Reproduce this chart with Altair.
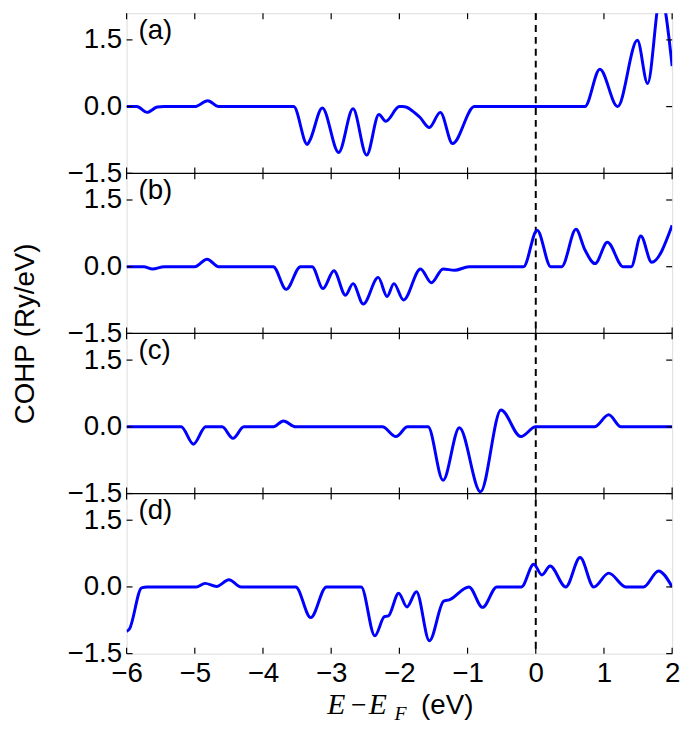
import altair as alt
import pandas as pd

# ---------------- data ----------------
x_ticks = [-6, -5, -4, -3, -2, -1, 0, 1, 2]
y_ticks = [-1.5, 0.0, 1.5]
panel_labels = ["(a)", "(b)", "(c)", "(d)"]

a_x = [-6.0, -5.85, -5.70, -5.55, -5.45, -5.0, -4.81, -4.65, -3.55, -3.35, -3.31, -3.13,
       -2.89, -2.68, -2.48, -2.30, -2.20, -2.0, -1.95, -1.70, -1.56, -1.40, -1.22, -0.90,
       0.72, 0.94, 1.20, 1.49, 1.64, 1.83, 2.0]
a_y = [0.0, 0.0, -0.13, -0.01, 0.0, 0.0, 0.13, 0.0, 0.0, -0.85, -0.75, -0.03,
       -1.03, -0.05, -1.09, -0.18, -0.33, 0.0, 0.0, -0.24, -0.47, -0.13, -0.83, 0.0,
       0.0, 0.84, 0.0, 1.49, 0.52, 2.5, 0.91]

b_x = [-6.0, -5.75, -5.62, -5.45, -5.0, -4.82, -4.65, -3.85, -3.66, -3.45, -3.28, -3.12,
       -2.96, -2.79, -2.68, -2.53, -2.31, -2.18, -2.08, -1.94, -1.69, -1.53, -1.36, -1.19,
       -0.98, -0.18, 0.02, 0.22, 0.38, 0.59, 0.72, 0.87, 1.05, 1.28, 1.40, 1.54, 1.70, 2.0]
b_y = [0.0, 0.0, -0.05, 0.0, 0.0, 0.17, 0.0, 0.0, -0.51, 0.0, 0.0, -0.49,
       -0.09, -0.64, -0.38, -0.84, -0.24, -0.67, -0.38, -0.75, -0.05, -0.36, -0.05, -0.08,
       0.0, 0.0, 0.82, 0.0, 0.0, 0.84, 0.38, 0.07, 0.55, 0.0, 0.0, 0.69, 0.10, 0.93]

c_x = [-6.0, -5.20, -5.02, -4.84, -4.60, -4.44, -4.28, -3.85, -3.70, -3.52, -2.25, -2.05,
       -1.88, -1.58, -1.36, -1.12, -0.81, -0.51, -0.22, 0.0, 0.86, 1.07, 1.25, 2.0]
c_y = [0.0, 0.0, -0.39, 0.0, 0.0, -0.26, 0.0, 0.0, 0.13, 0.0, 0.0, -0.22,
       0.0, 0.0, -1.20, -0.02, -1.46, 0.38, -0.22, 0.0, 0.0, 0.27, 0.0, 0.0]

d_x = [-6.0, -5.96, -5.78, -5.70, -4.98, -4.85, -4.68, -4.50, -4.32, -3.52, -3.30, -3.07,
       -2.56, -2.36, -2.22, -2.16, -2.01, -1.89, -1.75, -1.56, -1.35, -1.27, -0.98, -0.78,
       -0.57, -0.21, -0.03, 0.09, 0.21, 0.44, 0.65, 0.85, 1.07, 1.32, 1.58, 1.80, 2.0]
d_y = [-1.0, -0.95, -0.02, 0.0, 0.0, 0.08, 0.01, 0.16, 0.0, 0.0, -0.69, 0.0,
       0.0, -1.10, -0.67, -0.65, -0.14, -0.45, -0.11, -1.21, -0.32, -0.29, 0.0, -0.46,
       0.0, 0.0, 0.51, 0.27, 0.47, 0.0, 0.66, 0.0, 0.31, 0.0, 0.0, 0.36, 0.0]

series = [(a_x, a_y), (b_x, b_y), (c_x, c_y), (d_x, d_y)]

# ---------------- layout / style ----------------
Y_LO, Y_HI = -1.5, 2.1          # each panel's own y range
SPAN = Y_HI - Y_LO              # 3.6
NP = len(series)
W, H = 552, 648                 # whole stack of four panels
TICK = 6
FONT = "Liberation Sans"
SERIF = "Liberation Serif"
BLUE = "#0000ff"
FS = 28

xscale = alt.Scale(domain=[-6, 2], nice=False, zero=False)
yscale = alt.Scale(domain=[0, SPAN * NP], nice=False, zero=False)

# long-form data, panel index k (0 = top)
rows = []
for k, (xs, ys) in enumerate(series):
    for xv, yv in zip(xs, ys):
        rows.append({"E": xv, "COHP": yv, "k": k})
df = pd.DataFrame(rows)

# stacked positions of the y ticks / panel boundaries
ytick_pos = [t - Y_LO + SPAN * (NP - 1 - k) for k in range(NP) for t in y_ticks]
inner_bounds = [SPAN * j for j in range(1, NP)]

label_expr = ("format((datum.value - %g*floor((datum.value + 0.001)/%g)) + %g, '.1f')"
              % (SPAN, SPAN, Y_LO))

xaxis = alt.Axis(values=x_ticks, format="d", title=None, ticks=False, domain=False,
                 grid=False, labelFontSize=FS, labelFont=FONT, labelColor="black",
                 labelPadding=6, labelFlush=False, labelOverlap=False)
yaxis = alt.Axis(values=ytick_pos, labelExpr=label_expr, title="COHP (Ry/eV)",
                 titleFont=FONT, titleFontSize=FS, titleFontWeight="normal",
                 titleColor="black", titlePadding=28, ticks=False, domain=False,
                 grid=False, labelFontSize=FS, labelFont=FONT, labelColor="black",
                 labelPadding=5, labelOverlap=False)


def X(field):
    return alt.X(field, scale=xscale, axis=xaxis)


def Y(field):
    return alt.Y(field, scale=yscale, axis=yaxis)


line = alt.Chart(df).transform_calculate(
    yp="datum.COHP + %g + %g*(%d - datum.k)" % (-Y_LO, SPAN, NP - 1)
).mark_line(color=BLUE, strokeWidth=3, interpolate="monotone", clip=True).encode(
    x=X("E:Q"), y=Y("yp:Q"), detail="k:N")

zero = alt.Chart(pd.DataFrame({"z": [0]})).mark_rule(
    color="black", strokeDash=[7, 5], strokeWidth=2).encode(x=X("z:Q"))

seps = alt.Chart(pd.DataFrame({"b": inner_bounds})).mark_rule(
    color="black", strokeWidth=1.3).encode(y=Y("b:Q"))

# inward ticks
xt = pd.DataFrame({"t": x_ticks})
yt = pd.DataFrame({"t": ytick_pos})
cross = pd.DataFrame([{"t": t, "b": b} for t in x_ticks for b in inner_bounds])

top_t = alt.Chart(xt).mark_rule(color="black", strokeWidth=1.2).encode(
    x=X("t:Q"), y=alt.value(0), y2=alt.value(TICK))
bot_t = alt.Chart(xt).mark_rule(color="black", strokeWidth=1.2).encode(
    x=X("t:Q"), y=alt.value(H - TICK), y2=alt.value(H))
mid_t = alt.Chart(cross).mark_tick(color="black", orient="vertical", size=2 * TICK,
                                   thickness=1.2, opacity=1).encode(
    x=X("t:Q"), y=Y("b:Q"))
left_t = alt.Chart(yt).mark_rule(color="black", strokeWidth=1.2).encode(
    y=Y("t:Q"), x=alt.value(0), x2=alt.value(TICK))
right_t = alt.Chart(yt).mark_rule(color="black", strokeWidth=1.2).encode(
    y=Y("t:Q"), x=alt.value(W - TICK), x2=alt.value(W))

# panel letters, just inside each panel's top-left corner
labs = alt.Chart(pd.DataFrame({"lab": panel_labels, "k": list(range(NP))})).transform_calculate(
    yp="%g*(%d - datum.k) - 0.58" % (SPAN, NP), xl="-5.826"
).mark_text(font=FONT, fontSize=FS, align="left", baseline="alphabetic",
            color="black").encode(text="lab:N", x=X("xl:Q"), y=Y("yp:Q"))

layers = [zero, seps, line, top_t, bot_t, mid_t, left_t, right_t, labs]

# x axis title  E - E_F (eV)  built from pieces
pieces = [
    ("E", SERIF, "italic", 30, 203, 709),
    ("\u2212", SERIF, "normal", FS, 227, 709),
    ("E", SERIF, "italic", 30, 245, 709),
    ("F", SERIF, "italic", 20, 271, 715),
    ("(eV)", FONT, "normal", FS, 298, 709),
]
for txt, fnt, sty, size, px, py in pieces:
    layers.append(
        alt.Chart(pd.DataFrame({"t": [txt]})).mark_text(
            font=fnt, fontStyle=sty, fontSize=size, align="left",
            baseline="alphabetic", color="black").encode(
            text="t:N", x=alt.value(px), y=alt.value(py)))

chart = alt.layer(*layers).properties(
    width=W, height=H,
    padding={"left": 3, "top": 0, "right": 5, "bottom": 2}
).configure_view(
    stroke="black", strokeWidth=1.3
).configure(background="white")

chart.save("out.html", embed_options={"renderer": "svg", "actions": False})
